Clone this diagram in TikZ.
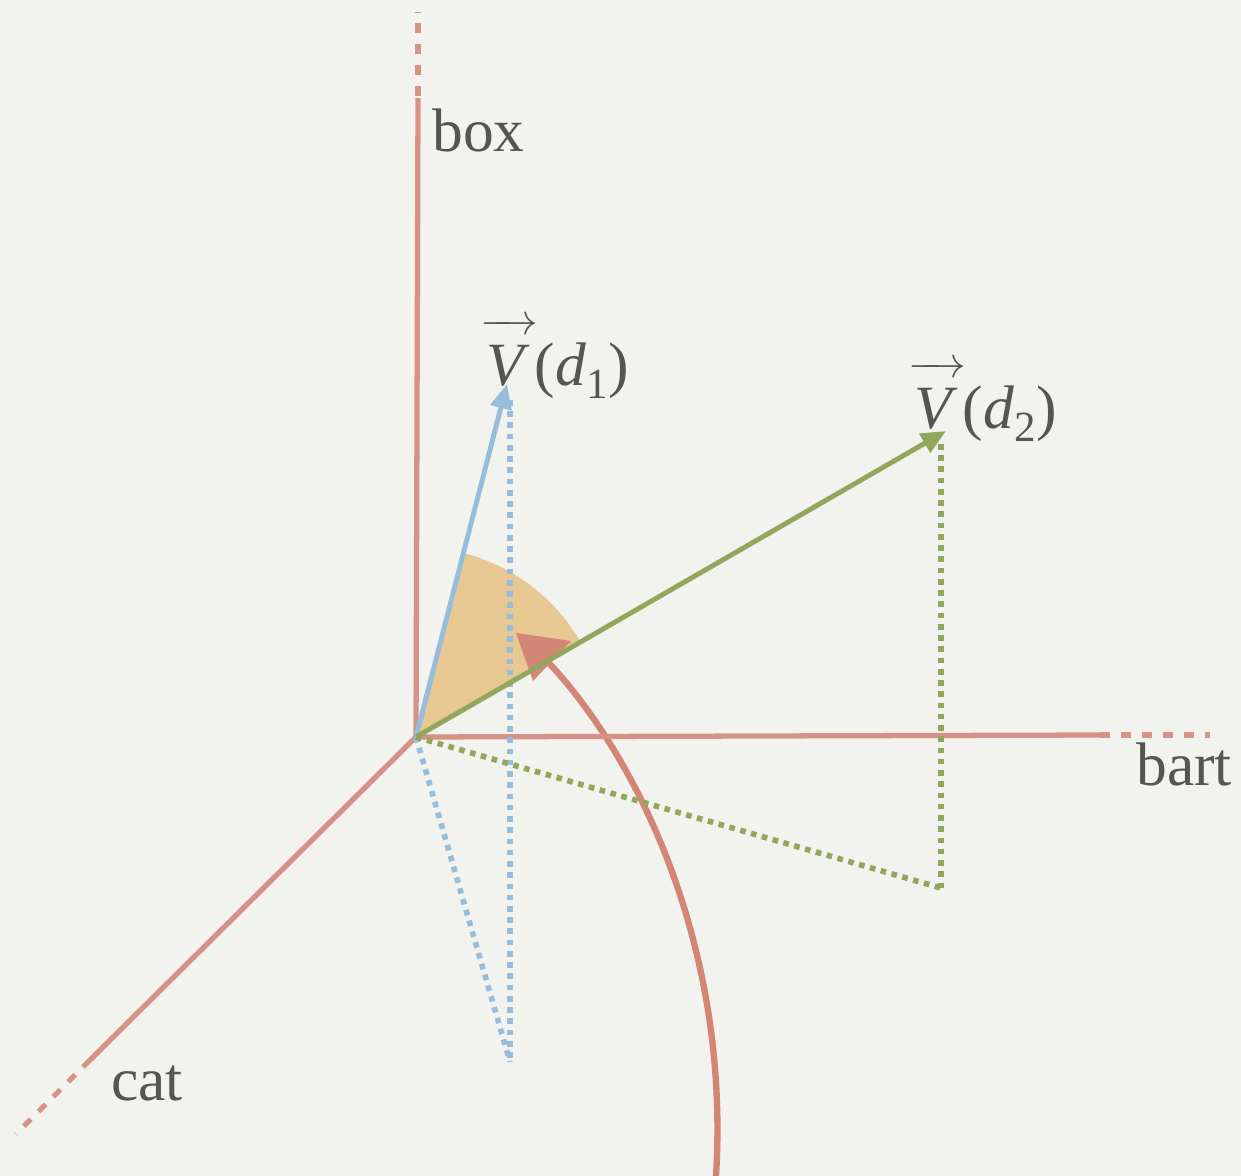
\documentclass[tikz,border=0pt]{standalone}
\usepackage{fontspec}
\setmainfont{Liberation Serif}
\usetikzlibrary{arrows.meta}
\definecolor{bgc}{RGB}{242,242,238}
\definecolor{axisc}{RGB}{214,146,132}
\definecolor{bluec}{RGB}{150,190,220}
\definecolor{greenc}{RGB}{146,166,92}
\definecolor{wedgec}{RGB}{231,199,146}
\definecolor{redc}{RGB}{211,134,118}
\definecolor{textc}{RGB}{85,85,82}
\newcommand{\vecV}{\makebox[0pt][l]{\kern-0.1em\raisebox{0.82em}{\makebox[0.95em]{\rightarrowfill}}}\textit{V}\kern0.08em}
\tikzset{
  axisline/.style={axisc, line width=3pt},
  axisdash/.style={axisc, line width=3pt, dash pattern=on 5.7pt off 6.2pt},
  vecline/.style={line width=2.8pt, -{Triangle[length=14pt,width=12pt]}},
  dotline/.style={line width=3.2pt, dash pattern=on 3.2pt off 3.2pt},
  lab/.style={text=textc, font=\fontsize{35pt}{40pt}\selectfont, inner sep=0pt}
}
\begin{document}
\begin{tikzpicture}[x=0.02cm,y=-0.02cm]
\fill[bgc] (0,0) rectangle (1241,1176);
\useasboundingbox (0,0) rectangle (1241,1176);
% key points
\coordinate (O) at (416,737);
\coordinate (boxend) at (418,98);
\coordinate (boxtop) at (418,12);
\coordinate (bartend) at (1100,735);
\coordinate (bartfar) at (1210,735);
\coordinate (catend) at (90,1060);
\coordinate (catfar) at (16,1134);
\coordinate (v1) at (507,384);
\coordinate (v1top) at (510,400);
\coordinate (v1foot) at (510,1062);
\coordinate (v2) at (946,431);
\coordinate (v2top) at (941,444);
\coordinate (v2foot) at (941,888);
\coordinate (rs) at (716,1176);
\coordinate (rb) at (548,662);
\coordinate (tipA) at (516,633);
\coordinate (tipB) at (571,641);
\coordinate (tipC) at (533,681);
% wedge
\fill[wedgec] (O) -- ++(-30:190) arc[start angle=-30, end angle=-75.4, radius=190] -- cycle;
% red curved arrow
\draw[redc, line width=3.6pt, line cap=round] (rs) .. controls (730,950) and (640,760) .. (rb);
\fill[redc] (tipA) -- (tipB) -- (tipC) -- cycle;
% axes
\draw[axisline] (O) -- (boxend);
\draw[axisdash] (boxend) ++(0,-2) -- (boxtop);
\draw[axisline] (O) -- (bartend);
\draw[axisdash] (bartend) -- (bartfar);
\draw[axisline] (O) -- (catend);
\draw[axisdash] (catend) -- (catfar);
% dotted projections
\draw[bluec, dotline] (v1top) -- (v1foot);
\draw[bluec, dotline] (O) -- (v1foot);
\draw[greenc, dotline] (v2top) -- (v2foot);
\draw[greenc, dotline] (O) -- (v2foot);
% vectors
\draw[bluec, vecline] (O) -- (v1);
\draw[greenc, vecline] (O) -- (v2);
% labels
\node[lab, anchor=base west] (lbox) at (432,152) {box};
\node[lab, anchor=base west] (lbart) at (1136,785) {bart};
\node[lab, anchor=base west] (lcat) at (111,1100) {cat};
\node[lab, anchor=base west] (ld1) at (486,385) {\vecV(\textit{d}\textsubscript{1})};
\node[lab, anchor=base west] (ld2) at (914,428) {\vecV(\textit{d}\textsubscript{2})};
\end{tikzpicture}
\end{document}
